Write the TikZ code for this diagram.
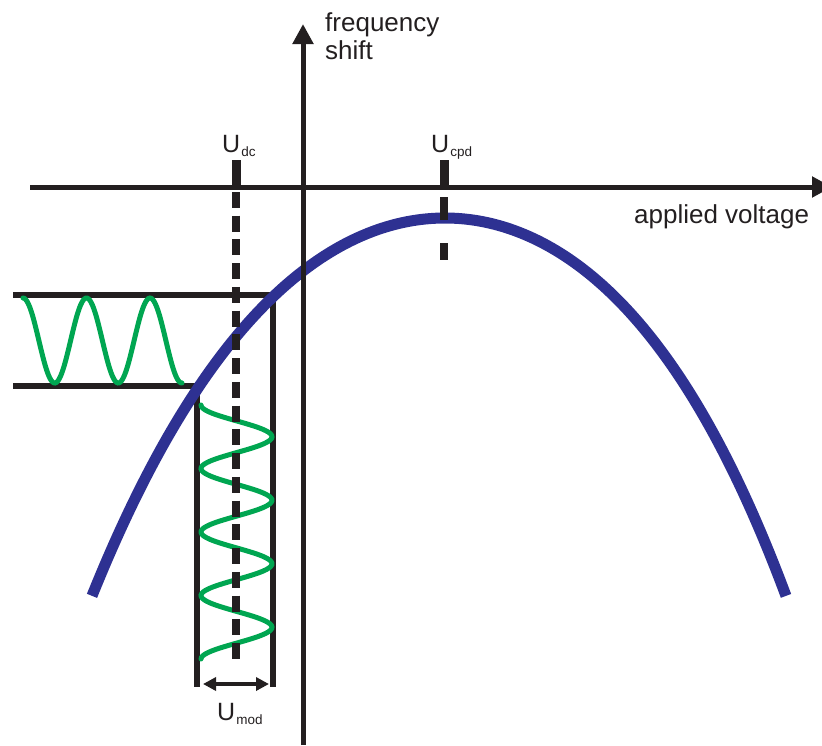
\documentclass[tikz,border=0pt]{standalone}
\usepackage{fontspec}
\setmainfont{Liberation Sans}
\usetikzlibrary{arrows.meta}
\definecolor{inkblack}{HTML}{231F20}
\definecolor{curveblue}{HTML}{2E3192}
\definecolor{wavegreen}{HTML}{00A651}
\begin{document}
\begin{tikzpicture}[x=1pt,y=-1pt,
  axis/.style={draw=inkblack,line width=5pt,-{Triangle[length=20pt,width=20pt]}},
  tickmark/.style={draw=inkblack,line width=9pt},
  dashline/.style={draw=inkblack,line width=8pt},
  boxline/.style={draw=inkblack,line width=6pt,line join=miter},
  parab/.style={draw=curveblue,line width=11pt},
  wave/.style={draw=wavegreen,line width=5pt,line cap=round},
  dimarrow/.style={draw=inkblack,line width=3.5pt,{Triangle[length=13pt,width=13pt]}-{Triangle[length=13pt,width=13pt]}},
  lbl/.style={inner sep=0pt,text=inkblack,font=\fontsize{26}{28.5}\selectfont},
  ulbl/.style={inner sep=0pt,text=inkblack,font=\fontsize{25}{28}\selectfont,anchor=base west}]
\useasboundingbox (0,0) rectangle (822,745);
% coordinates
\coordinate (vbot) at (303,745);
\coordinate (vtop) at (303,24);
\coordinate (hleft) at (30,187);
\coordinate (hright) at (832,187);
\coordinate (dcT) at (236,160);
\coordinate (dcB) at (236,190);
\coordinate (dcS) at (236,192);
\coordinate (dcE) at (236,659);
\coordinate (cpT) at (444,160);
\coordinate (cpB) at (444,190);
\coordinate (cpS) at (444,197);
\coordinate (cpE) at (444,260);
\coordinate (upL) at (13,295);
\coordinate (upC) at (273,295);
\coordinate (upE) at (273,687);
\coordinate (loL) at (13,386);
\coordinate (loC) at (197,386);
\coordinate (loE) at (197,687);
\coordinate (mA) at (203,684);
\coordinate (mB) at (269,684);
% box lines
\draw[boxline] (upL) -- (upC) -- (upE);
\draw[boxline] (loL) -- (loC) -- (loE);
% blue curve
\draw[parab] plot[domain=92:445,samples=90,smooth] ({\x},{218+((445-\x)/100)^2*(25.5+0.387*((445-\x)/100)^2)})
  -- plot[domain=445:786,samples=90,smooth] ({\x},{218+((\x-445)/100)^2*(25.66+0.588*((\x-445)/100)^2)});
% green waves
\draw[wave] plot[domain=23:182,samples=120,smooth] ({\x},{340.5-42.5*cos(5.6693*(\x-23))});
\draw[wave] plot[domain=405:659,samples=160,smooth] ({236.5-35.5*cos(5.6693*(\x-405))},{\x});
% dashed markers
\draw[dashline,dash pattern=on 16pt off 7.74pt] (dcS) -- (dcE);
\draw[dashline,dash pattern=on 23pt off 23pt on 17pt off 20pt] (cpS) -- (cpE);
% axes
\draw[axis] (hleft) -- (hright);
\draw[axis] (vbot) -- (vtop);
% ticks
\draw[tickmark] (dcT) -- (dcB);
\draw[tickmark] (cpT) -- (cpB);
% modulation arrow
\draw[dimarrow] (mA) -- (mB);
% labels
\node[lbl,anchor=north west,align=left] (fs) at (325,12) {frequency\\shift};
\node[lbl,anchor=base west] (av) at (634,223) {applied voltage};
\node[ulbl] (udc) at (222,152) {U\kern1pt\lower4pt\hbox{\fontsize{13.5}{13.5}\selectfont dc}};
\node[ulbl] (ucpd) at (431,152) {U\kern1pt\lower4pt\hbox{\fontsize{13.5}{13.5}\selectfont cpd}};
\node[ulbl] (umod) at (217,720) {U\kern1pt\lower4pt\hbox{\fontsize{13.5}{13.5}\selectfont mod}};
\end{tikzpicture}
\end{document}
